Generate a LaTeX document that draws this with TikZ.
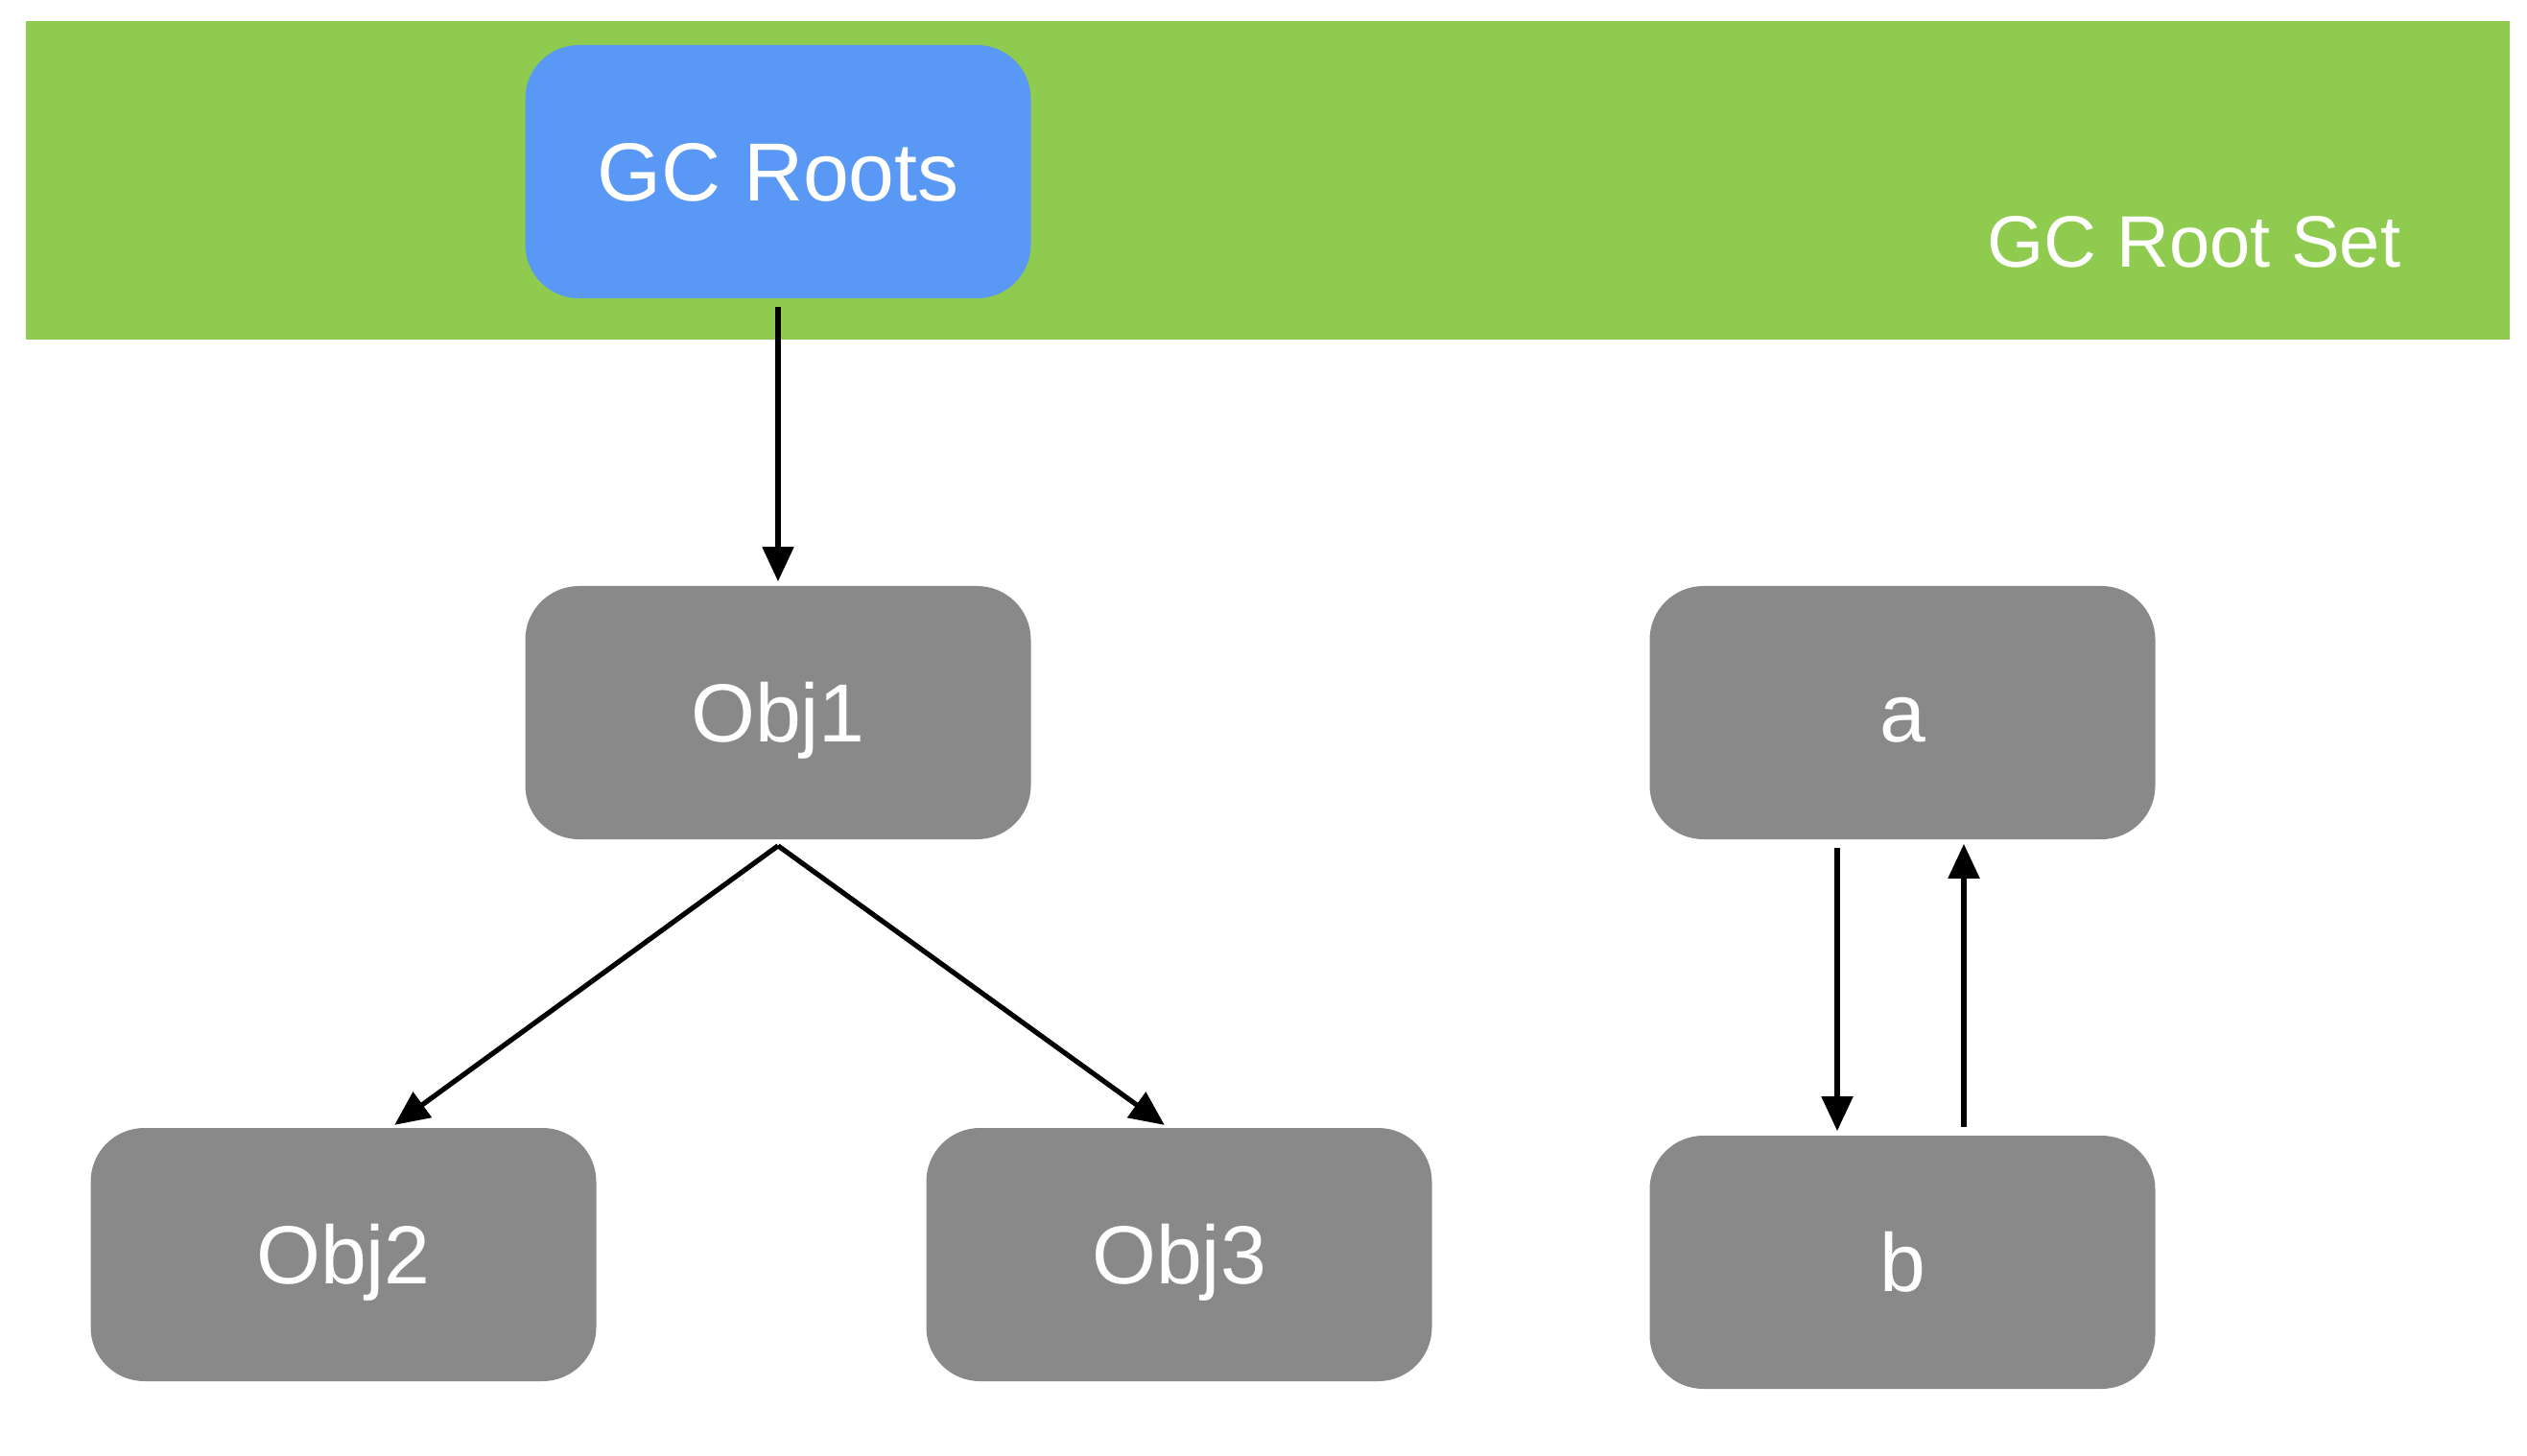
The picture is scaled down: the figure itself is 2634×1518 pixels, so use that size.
\documentclass[tikz,border=0pt]{standalone}
\usepackage{fontspec}
\setmainfont{Liberation Sans}
\usetikzlibrary{arrows.meta}
\definecolor{setgreen}{RGB}{143,203,78}
\definecolor{rootblue}{RGB}{90,152,245}
\definecolor{objgray}{RGB}{137,137,137}
\begin{document}
\begin{tikzpicture}[x=.25pt, y=-.25pt,
	box/.style={rounded corners=14pt, minimum width=131.75pt, minimum height=66pt, inner sep=0pt,
		text=white, text height=15.4pt, text depth=0pt, font=\fontsize{21.5}{26}\selectfont},
	obj/.style={box, fill=objgray},
	ref/.style={line width=1.3pt, -{Triangle[length=9pt, width=8pt]}, shorten >=1pt, shorten <=2pt}]
% page size
	\useasboundingbox (0,0) rectangle (2634,1518);
% draw root set band
	\fill[setgreen] (27,22) rectangle (2616,354);
	\node[anchor=east, inner sep=0pt, text=white, font=\fontsize{19}{23}\selectfont] (set) at (2503,252) {GC Root Set};
% draw objects
	\node[box, fill=rootblue] (roots) at (811,179) {GC Roots};
	\node[obj] (obj1) at (811,743) {Obj1};
	\node[obj] (obj2) at (358,1308) {Obj2};
	\node[obj] (obj3) at (1229,1308) {Obj3};
	\node[obj] (a) at (1983,743) {a};
	\node[obj] (b) at (1983,1316) {b};
% draw references
	\draw[ref] (roots.south) -- (obj1.north);
	\draw[ref, shorten <=0pt] ([yshift=-1.5pt]obj1.south) -- ([xshift=12.5pt]obj2.north);
	\draw[ref, shorten <=0pt] ([yshift=-1.5pt]obj1.south) -- ([xshift=-3pt]obj3.north);
	\draw[ref] ([xshift=-17pt]a.south) -- ([xshift=-17pt]b.north);
	\draw[ref] ([xshift=16pt]b.north) -- ([xshift=16pt]a.south);
\end{tikzpicture}
\end{document}
